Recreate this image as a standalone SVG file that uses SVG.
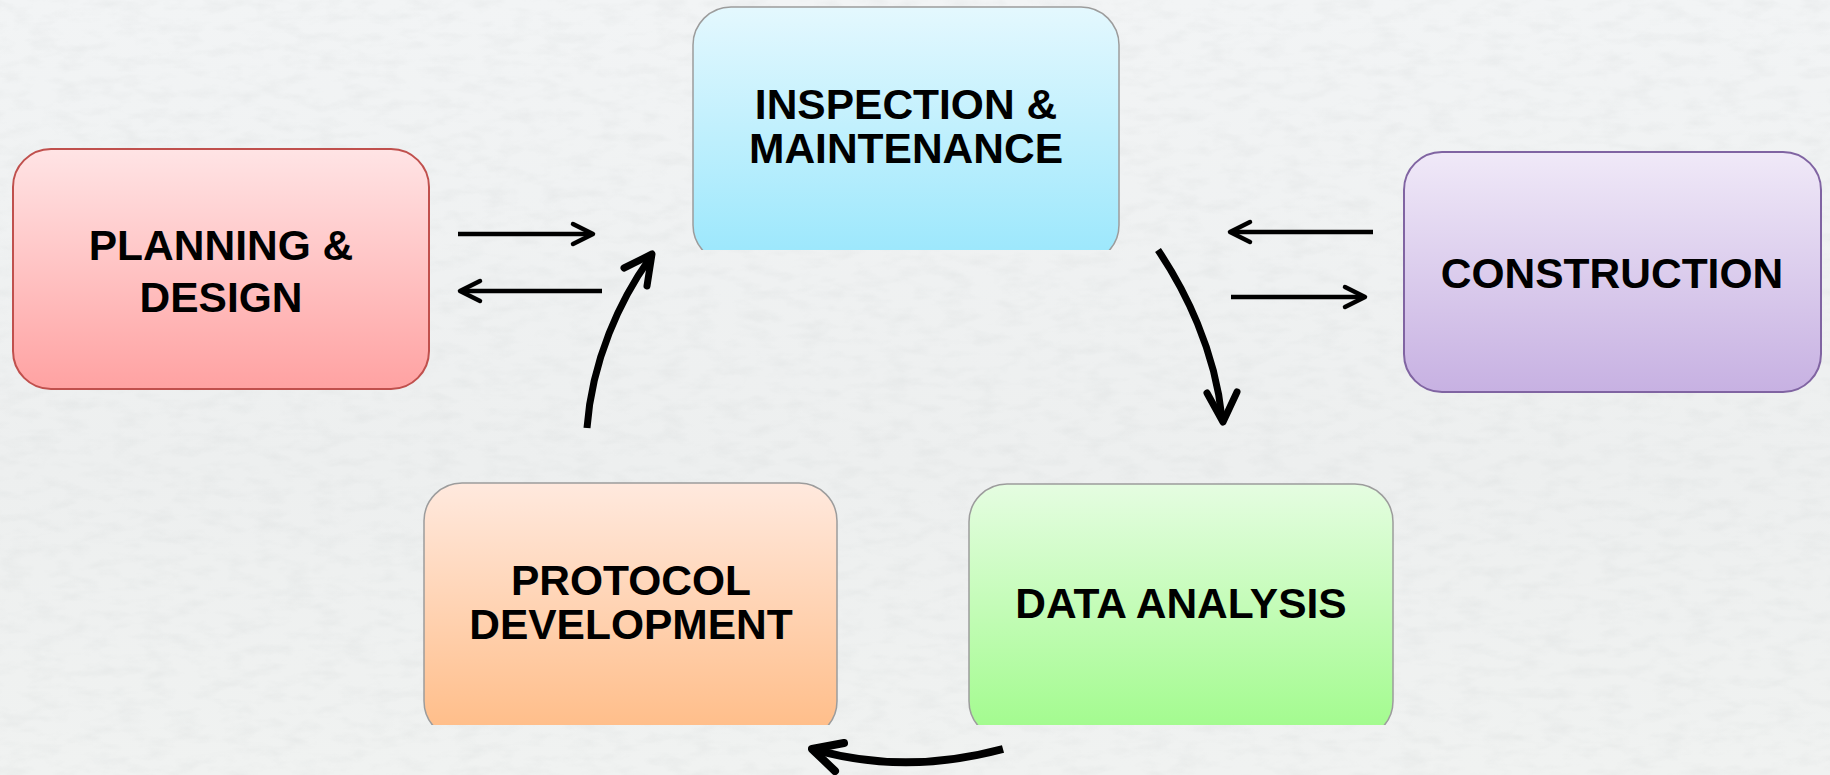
<svg xmlns="http://www.w3.org/2000/svg" width="1830" height="775" viewBox="0 0 1830 775">
  <style>
    .label { font-family: "Liberation Sans", Arial, sans-serif; font-weight: bold; font-size: 42.5px; fill: #000; text-anchor: middle; }
    .soft { stroke: #9c9c9c; stroke-width: 1.5; }
    .line { fill: none; stroke: #000; stroke-linecap: butt; }
    .head { fill: none; stroke: #000; stroke-linecap: round; stroke-linejoin: round; }
    .thin { stroke-width: 4.5; }
    .thick { stroke-width: 7; }
  </style>
  <defs>
    <linearGradient id="gRed" x1="0" y1="0" x2="0" y2="1">
      <stop offset="0" stop-color="#ffe4e5"/>
      <stop offset="1" stop-color="#ffa2a2"/>
    </linearGradient>
    <linearGradient id="gBlue" x1="0" y1="0" x2="0" y2="1">
      <stop offset="0" stop-color="#e4f8fe"/>
      <stop offset="1" stop-color="#9ae7fc"/>
    </linearGradient>
    <linearGradient id="gPurple" x1="0" y1="0" x2="0" y2="1">
      <stop offset="0" stop-color="#f0e9f8"/>
      <stop offset="1" stop-color="#c7b1e2"/>
    </linearGradient>
    <linearGradient id="gOrange" x1="0" y1="0" x2="0" y2="1">
      <stop offset="0" stop-color="#ffe9de"/>
      <stop offset="1" stop-color="#ffbc86"/>
    </linearGradient>
    <linearGradient id="gGreen" x1="0" y1="0" x2="0" y2="1">
      <stop offset="0" stop-color="#e5fde1"/>
      <stop offset="1" stop-color="#a0fb8b"/>
    </linearGradient>
    <linearGradient id="gBack" x1="0" y1="0" x2="0" y2="1">
      <stop offset="0" stop-color="#f2f4f5"/>
      <stop offset="0.6" stop-color="#edefef"/>
      <stop offset="1" stop-color="#f0f2f1"/>
    </linearGradient>
    <filter id="grain" x="0" y="0" width="100%" height="100%">
      <feTurbulence type="fractalNoise" baseFrequency="0.035 0.09" numOctaves="3" seed="7" result="n"/>
      <feColorMatrix type="matrix" values="0 0 0 0 0.55  0 0 0 0 0.58  0 0 0 0 0.58  0 0 0 -2.2 1.25"/>
    </filter>
    <clipPath id="cutTop"><rect x="0" y="0" width="1830" height="250"/></clipPath>
    <clipPath id="cutBottom"><rect x="0" y="0" width="1830" height="725"/></clipPath>
  </defs>

  <!-- faded backdrop -->
  <rect width="1830" height="775" fill="url(#gBack)"/>
  <rect width="1830" height="775" filter="url(#grain)" opacity="0.14"/>

  <g id="planning-design">
    <rect x="13" y="149" width="416" height="240" rx="38" fill="url(#gRed)" stroke="#c0504d" stroke-width="2"/>
    <text class="label" x="221" y="260">PLANNING &amp;</text>
    <text class="label" x="221" y="312">DESIGN</text>
  </g>

  <g id="inspection-maintenance">
    <rect x="693" y="7" width="426" height="256" rx="38" fill="url(#gBlue)" class="soft" clip-path="url(#cutTop)"/>
    <text class="label" x="906" y="119">INSPECTION &amp;</text>
    <text class="label" x="906" y="163">MAINTENANCE</text>
  </g>

  <g id="construction">
    <rect x="1404" y="152" width="417" height="240" rx="38" fill="url(#gPurple)" stroke="#8064a2" stroke-width="2"/>
    <text class="label" x="1612" y="288">CONSTRUCTION</text>
  </g>

  <g id="protocol-development">
    <rect x="424" y="483" width="413" height="256" rx="38" fill="url(#gOrange)" class="soft" clip-path="url(#cutBottom)"/>
    <text class="label" x="631" y="595">PROTOCOL</text>
    <text class="label" x="631" y="639">DEVELOPMENT</text>
  </g>

  <g id="data-analysis">
    <rect x="969" y="484" width="424" height="255" rx="38" fill="url(#gGreen)" class="soft" clip-path="url(#cutBottom)"/>
    <text class="label" x="1181" y="618">DATA ANALYSIS</text>
  </g>

  <g id="connectors">
    <!-- planning <-> inspection -->
    <path class="line thin" d="M458,234 H590"/>
    <polyline class="head thin" points="573,224 593,234 573,244"/>
    <path class="line thin" d="M602,291 H463"/>
    <polyline class="head thin" points="480,281 460,291 480,301"/>

    <!-- construction <-> inspection -->
    <path class="line thin" d="M1373,232 H1233"/>
    <polyline class="head thin" points="1250,222 1230,232 1250,242"/>
    <path class="line thin" d="M1231,297 H1362"/>
    <polyline class="head thin" points="1345,287 1365,297 1345,307"/>

    <!-- protocol -> inspection -->
    <path class="line thick" d="M587,428 C592,360 620,300 650,258"/>
    <polyline class="head thick" points="624,268 652,254 647,286"/>

    <!-- inspection -> data analysis -->
    <path class="line thick" d="M1158,250 C1185,290 1215,350 1222,418"/>
    <polyline class="head thick" points="1207,393 1223,422 1237,392"/>

    <!-- data analysis -> protocol -->
    <path class="line" stroke-width="8" d="M1003,749 Q906,775 816,750"/>
    <polyline class="head" stroke-width="8" points="844,743 812,749 835,771"/>
  </g>
</svg>
